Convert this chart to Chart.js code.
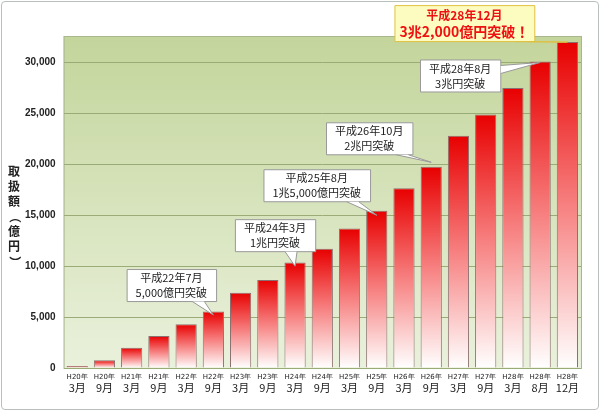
<!DOCTYPE html>
<html><head><meta charset="utf-8">
<script src="https://cdn.jsdelivr.net/npm/chart.js@4"></script>
<style>
body{margin:0;background:#fff;}
#wrap{position:absolute;left:1px;top:1px;width:596px;height:407px;border:1px solid #b9bfbb;border-radius:4px;}
canvas{position:absolute;left:0;top:0;}
</style></head><body>
<div id="wrap"></div>
<canvas id="c" width="600" height="411"></canvas>
<script>
const years = ["H20年","H20年","H21年","H21年","H22年","H22年","H23年","H23年","H24年","H24年","H25年","H25年","H26年","H26年","H27年","H27年","H28年","H28年","H28年"];
const months = ["3月","9月","3月","9月","3月","9月","3月","9月","3月","9月","3月","9月","3月","9月","3月","9月","3月","8月","12月"];
const amounts = [200,750,2000,3150,4300,5550,7400,8650,10350,11700,13700,15450,17650,19750,22800,24900,27500,30100,32000];
const yTicks = [0,5000,10000,15000,20000,25000,30000];
// callouts: [bar index, value at tip, dx, dy of box center from tip, lines]
const callouts = [
  [5, 5200, -42, -30, ["平成22年7月","5,000億円突破"]],
  [8, 10000, -20, -31, ["平成24年3月","1兆円突破"]],
  [11, 15000, -60, -30, ["平成25年8月","1兆5,000億円突破"]],
  [13, 20200, -62, -24, ["平成26年10月","2兆円突破"]],
  [17, 30000, -80, 13, ["平成28年8月","3兆円突破"]],
];
const topNote = [18, 32000, -103, -19, ["平成28年12月","3兆2,000億円突破！"]];

const ctx = document.getElementById("c").getContext("2d");

const bgPlugin = {
  id: "bg",
  beforeDraw(chart) {
    const a = chart.chartArea, c = chart.ctx;
    const g = c.createLinearGradient(0, a.top, 0, a.bottom);
    g.addColorStop(0, "#c3d59b");
    g.addColorStop(1, "#eaf1dc");
    c.save();
    c.fillStyle = g;
    c.fillRect(a.left, a.top, a.right - a.left, a.bottom - a.top);
    c.strokeStyle = "#a9b78f";
    c.strokeRect(a.left + 0.5, a.top + 0.5, a.right - a.left, a.bottom - a.top);
    // y title stacked
    c.fillStyle = "#222";
    c.font = "bold 12px 'Noto Sans CJK JP'";
    c.textAlign = "center";
    const t = ["取","扱","額","（","億","円","）"];
    t.forEach((ch, i) => {
      if (ch === "（" || ch === "）") {
        c.save();
        c.translate(14, 172 + i * 15);
        c.rotate(Math.PI / 2);
        c.fillText(ch, 0, 4);
        c.restore();
      } else c.fillText(ch, 14, 176 + i * 15);
    });
    c.restore();
  }
};

function bubble(c, tipX, tipY, bx, by, lines, yellow) {
  c.save();
  c.font = yellow ? "bold 14px 'Noto Sans CJK JP'" : "11px 'Noto Sans CJK JP'";
  const w = Math.max(...lines.map(l => c.measureText(l).width)) + (yellow ? 10 : 18);
  const h = yellow ? 36 : 32;
  const x = bx - w / 2, y = by - h / 2;
  c.fillStyle = yellow ? "#fdfcc0" : "#fff";
  c.strokeStyle = yellow ? "#e0c040" : "#999";
  c.lineWidth = 1;
  c.beginPath();
  c.rect(x + 0.5, y + 0.5, w, h);
  c.fill(); c.stroke();
  const baseY = tipY > y + h ? y + h : (tipY < y ? y : null);
  c.beginPath();
  if (baseY !== null) {
    const bxs = Math.min(Math.max(bx + (tipX - bx) * 0.5, x + 10), x + w - 16);
    c.moveTo(bxs, baseY + 0.5); c.lineTo(tipX, tipY); c.lineTo(bxs + 12, baseY + 0.5);
  } else {
    const side = tipX > x + w ? x + w : x;
    const my = Math.min(Math.max(tipY, y + 6), y + h - 14);
    c.moveTo(side + 0.5, my); c.lineTo(tipX, tipY); c.lineTo(side + 0.5, my + 8);
  }
  c.fill(); c.stroke();
  c.fillStyle = yellow ? "#ee1111" : "#222";
  c.textAlign = "center"; c.textBaseline = "middle";
  if (yellow) {
    c.font = "bold 12px 'Noto Sans CJK JP'";
    c.fillText(lines[0], bx, by - 8);
    c.font = "bold 14px 'Noto Sans CJK JP'";
    c.fillText(lines[1], bx, by + 9);
  } else {
    c.fillText(lines[0], bx, by - 7);
    c.fillText(lines[1], bx, by + 8);
  }
  c.restore();
}

const notePlugin = {
  id: "notes",
  afterDatasetsDraw(chart) {
    const xs = chart.scales.x, ys = chart.scales.y, c = chart.ctx;
    callouts.forEach(([i, v, dx, dy, lines]) => {
      const tx = xs.getPixelForValue(i), ty = ys.getPixelForValue(v);
      bubble(c, tx, ty, tx + dx, ty + dy, lines, false);
    });
    const [i, v, dx, dy, lines] = topNote;
    const tx = xs.getPixelForValue(i), ty = ys.getPixelForValue(v);
    bubble(c, tx, ty, tx + dx, ty + dy, lines, true);
    // x labels, two sizes
    const b = chart.chartArea.bottom;
    c.save();
    c.fillStyle = "#222"; c.textAlign = "center"; c.textBaseline = "top";
    years.forEach((y, k) => {
      const px = xs.getPixelForValue(k);
      c.font = "7px 'DejaVu Sans'";
      c.fillText(y, px, b + 6);
      c.font = "11px 'Noto Sans CJK JP'";
      c.fillText(months[k], px, b + 14);
    });
    c.restore();
  }
};

new Chart(ctx, {
  type: "bar",
  data: {
    labels: months,
    datasets: [{
      data: amounts,
      backgroundColor: (context) => {
        const chart = context.chart;
        if (!chart.chartArea) return "#e00";
        const top = chart.scales.y.getPixelForValue(context.raw);
        const bottom = chart.scales.y.getPixelForValue(0);
        const g = chart.ctx.createLinearGradient(0, top, 0, bottom);
        g.addColorStop(0, "#e80000");
        g.addColorStop(0.5, "#f78080");
        g.addColorStop(1, "#ffffff");
        return g;
      },
      borderColor: "#8a7070",
      borderWidth: 1,
      categoryPercentage: 0.82,
      barPercentage: 0.95
    }]
  },
  options: {
    responsive: false,
    animation: false,
    layout: { padding: { left: 17, right: 19, top: 36, bottom: 35 } },
    plugins: { legend: { display: false }, tooltip: { enabled: false } },
    scales: {
      x: {
        grid: { display: false },
        border: { display: false },
        ticks: { display: false }
      },
      y: {
        min: 0, max: 32600,
        afterBuildTicks: (s) => { s.ticks = yTicks.map(v => ({ value: v })); },
        grid: { color: "#9aab78", drawTicks: false },
        border: { display: false },
        ticks: { color: "#222", padding: 8, font: { size: 10, weight: "bold", family: "Arial" } }
      }
    }
  },
  plugins: [bgPlugin, notePlugin]
});
</script>
</body></html>
